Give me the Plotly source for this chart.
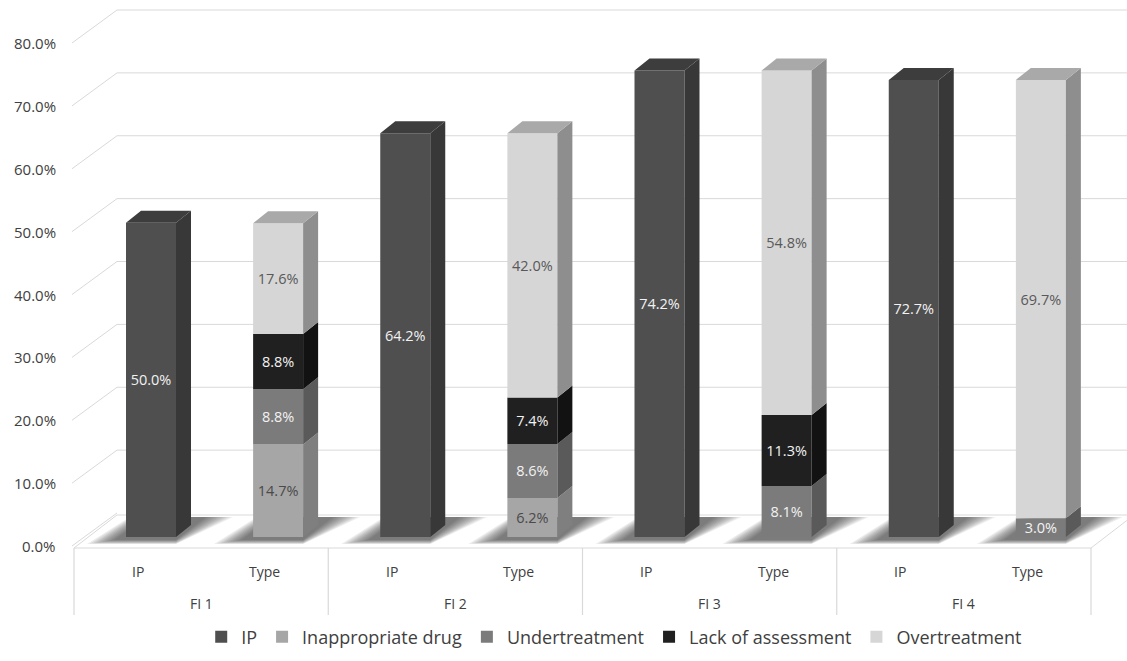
import plotly.graph_objects as go

# ---- data -------------------------------------------------------------
groups = ["FI 1", "FI 2", "FI 3", "FI 4"]
members = ["IP", "Type"]
ip = [50.0, 64.2, 74.2, 72.7]
inappropriate_drug = [14.7, 6.2, 0.0, 0.0]
undertreatment = [8.8, 8.6, 8.1, 3.0]
lack_of_assessment = [8.8, 7.4, 11.3, 0.0]
overtreatment = [17.6, 42.0, 54.8, 69.7]
y_ticks = [0, 10, 20, 30, 40, 50, 60, 70, 80]
y_tick_labels = [f"{v:.1f}%" for v in y_ticks]

# ---- canvas geometry (pixels -> data units) ---------------------------
W, H = 1127, 661
SLOT_PX = 127.125      # width of one category slot
LEFT_PX = 74           # left edge of the floor front
ZERO_PY = 537          # pixel row of value 0 on bar fronts
PX_PER_PCT = 6.2875    # pixels per percentage point


def xd(px):
    return (px - LEFT_PX) / SLOT_PX


def yd(py):
    return (ZERO_PY - py) / PX_PER_PCT


BAR_OFF = 52 / SLOT_PX          # front face left offset inside slot
BAR_W = 50 / SLOT_PX            # front face width
DEP_X = 15 / SLOT_PX            # bar depth (x)
DEP_Y = 12 / PX_PER_PCT         # bar depth (y)
WALL_DX = 43 / SLOT_PX          # wall depth
WALL_DY = 33 / PX_PER_PCT
LABEL_DY = -9 / PX_PER_PCT      # tick labels sit slightly below bar scale
FLOOR_FRONT = yd(548)
FLOOR_BACK = yd(515)

FONT = "Open Sans"
GRID = "#d9d9d9"

series = [
    # name, values, front, side, top, label colour
    ("Inappropriate drug", inappropriate_drug, "#a6a6a6", "#7f7f7f", "#8c8c8c", "#4a4a4a"),
    ("Undertreatment", undertreatment, "#7b7b7b", "#5a5a5a", "#666666", "#f2f2f2"),
    ("Lack of assessment", lack_of_assessment, "#202020", "#121212", "#181818", "#f2f2f2"),
    ("Overtreatment", overtreatment, "#d6d6d6", "#8e8e8e", "#a9a9a9", "#595959"),
]
ip_style = ("IP", ip, "#4f4f4f", "#383838", "#3d3d3d", "#f2f2f2")

fig = go.Figure()
shapes = []
annotations = []

# ---- walls and floor ---------------------------------------------------
x_left = xd(LEFT_PX)
x_right = xd(LEFT_PX + SLOT_PX * 8)
x_edge = xd(W)
floor_path = (f"M {x_left},{FLOOR_FRONT} L {x_right},{FLOOR_FRONT} "
              f"L {x_right + WALL_DX},{FLOOR_BACK} L {x_left + WALL_DX},{FLOOR_BACK} Z")
shapes.append(dict(type="path", path=floor_path, xref="x", yref="y", layer="below",
                   fillcolor="white", line=dict(color=GRID, width=1)))
for v, lab in zip(y_ticks, y_tick_labels):
    y_front = v + LABEL_DY
    y_back = y_front + WALL_DY
    shapes.append(dict(type="line", xref="x", yref="y", layer="below",
                       x0=x_left - 2 / SLOT_PX, y0=y_front, x1=x_left + WALL_DX, y1=y_back,
                       line=dict(color=GRID, width=1)))
    if v > 0:
        shapes.append(dict(type="line", xref="x", yref="y", layer="below",
                           x0=x_left + WALL_DX, y0=y_back, x1=x_edge, y1=y_back,
                           line=dict(color=GRID, width=1)))
    annotations.append(dict(x=xd(58), y=v + LABEL_DY, xref="x", yref="y",
                            text=lab, showarrow=False,
                            xanchor="right", yanchor="middle",
                            font=dict(family=FONT, size=15, color="#404040")))

# category box below the floor
for g in range(len(groups) + 1):
    xg = xd(LEFT_PX + SLOT_PX * 2 * g)
    shapes.append(dict(type="line", xref="x", yref="y", x0=xg, x1=xg,
                       y0=FLOOR_FRONT, y1=yd(615), line=dict(color=GRID, width=1.2)))
for g, name in enumerate(groups):
    for m, mem in enumerate(members):
        s = 2 * g + m
        annotations.append(dict(x=s + 0.5, y=yd(571), xref="x", yref="y", text=mem,
                                showarrow=False, font=dict(family=FONT, size=14, color="#404040")))
    annotations.append(dict(x=2 * g + 1.0, y=yd(603), xref="x", yref="y", text=name,
                            showarrow=False, font=dict(family=FONT, size=14, color="#404040")))

# ---- soft floor shadows behind every bar --------------------------------
for s in range(8):
    x0 = s + BAR_OFF
    n = 10
    for k in range(n):
        grow = (n - 1 - k) * 3.0
        p = [(x0 - (12 + grow) / SLOT_PX, yd(540 + grow * 0.15)),
             (x0 + 50 / SLOT_PX, yd(540 + grow * 0.15)),
             (x0 + (80 + grow) / SLOT_PX, yd(517)),
             (x0 + (20 - grow * 0.6) / SLOT_PX, yd(517))]
        path = "M " + " L ".join(f"{a},{b}" for a, b in p) + " Z"
        shapes.append(dict(type="path", path=path, xref="x", yref="y", layer="below",
                           fillcolor="rgba(30,30,30,0.08)", line=dict(width=0)))


# ---- bars: front faces (bar traces) + side/top faces (filled polygons) ---
def add_series(style, slots, bases, show_legend=True):
    name, vals, front, side, top, txt = style
    xs = [s + BAR_OFF + BAR_W / 2 for s in slots]
    fig.add_trace(go.Bar(
        x=xs, y=vals, base=bases, width=BAR_W, name=name,
        marker=dict(color=front, line=dict(width=0)),
        text=[f"{v:.1f}%" if v > 0 else "" for v in vals],
        textposition="inside", insidetextanchor="middle", textangle=0,
        insidetextfont=dict(family=FONT, size=14.5, color=txt),
        showlegend=show_legend, hoverinfo="skip"))
    return xs


def side_faces(style, slots, bases, tops_flags):
    name, vals, front, side, top, txt = style
    sx, sy, tx, ty = [], [], [], []
    for s, v, b, is_top in zip(slots, vals, bases, tops_flags):
        if v <= 0:
            continue
        x1 = s + BAR_OFF + BAR_W
        x0 = s + BAR_OFF
        t = b + v
        sx += [x1, x1 + DEP_X, x1 + DEP_X, x1, None]
        sy += [b, b + DEP_Y, t + DEP_Y, t, None]
        if is_top:
            tx += [x0, x0 + DEP_X, x1 + DEP_X, x1, None]
            ty += [t, t + DEP_Y, t + DEP_Y, t, None]
    fig.add_trace(go.Scatter(x=sx, y=sy, mode="lines", fill="toself", fillcolor=side,
                             line=dict(width=0, color=side), showlegend=False, hoverinfo="skip"))
    if tx:
        fig.add_trace(go.Scatter(x=tx, y=ty, mode="lines", fill="toself", fillcolor=top,
                                 line=dict(width=0, color=top), showlegend=False, hoverinfo="skip"))


ip_slots = [2 * g for g in range(len(groups))]
type_slots = [2 * g + 1 for g in range(len(groups))]

add_series(ip_style, ip_slots, [0] * len(ip))
side_faces(ip_style, ip_slots, [0] * len(ip), [True] * len(ip))

running = [0.0] * len(groups)
stack_bases = []
for st in series:
    stack_bases.append(list(running))
    running = [r + v for r, v in zip(running, st[1])]

for st, bases in zip(series, stack_bases):
    add_series(st, type_slots, bases)
for idx, (st, bases) in enumerate(zip(series, stack_bases)):
    # a segment carries the top face when nothing non-zero sits above it
    flags = []
    for g in range(len(groups)):
        above = sum(series[j][1][g] for j in range(idx + 1, len(series)))
        flags.append(above == 0)
    side_faces(st, type_slots, bases, flags)

fig.update_layout(
    width=W, height=H,
    margin=dict(l=0, r=0, t=0, b=0),
    paper_bgcolor="white", plot_bgcolor="white",
    barmode="overlay",
    xaxis=dict(range=[xd(0), xd(W)], visible=False, fixedrange=True),
    yaxis=dict(range=[yd(H), yd(0)], visible=False, fixedrange=True),
    shapes=shapes,
    annotations=annotations,
    showlegend=True,
    legend=dict(orientation="h", x=0.545, xanchor="center", y=(H - 637) / H, yanchor="middle",
                font=dict(family=FONT, size=18, color="#404040"),
                bgcolor="rgba(0,0,0,0)", traceorder="normal", itemwidth=30),
    uniformtext=dict(minsize=10, mode="show"),
)

fig.write_html("out.html")
